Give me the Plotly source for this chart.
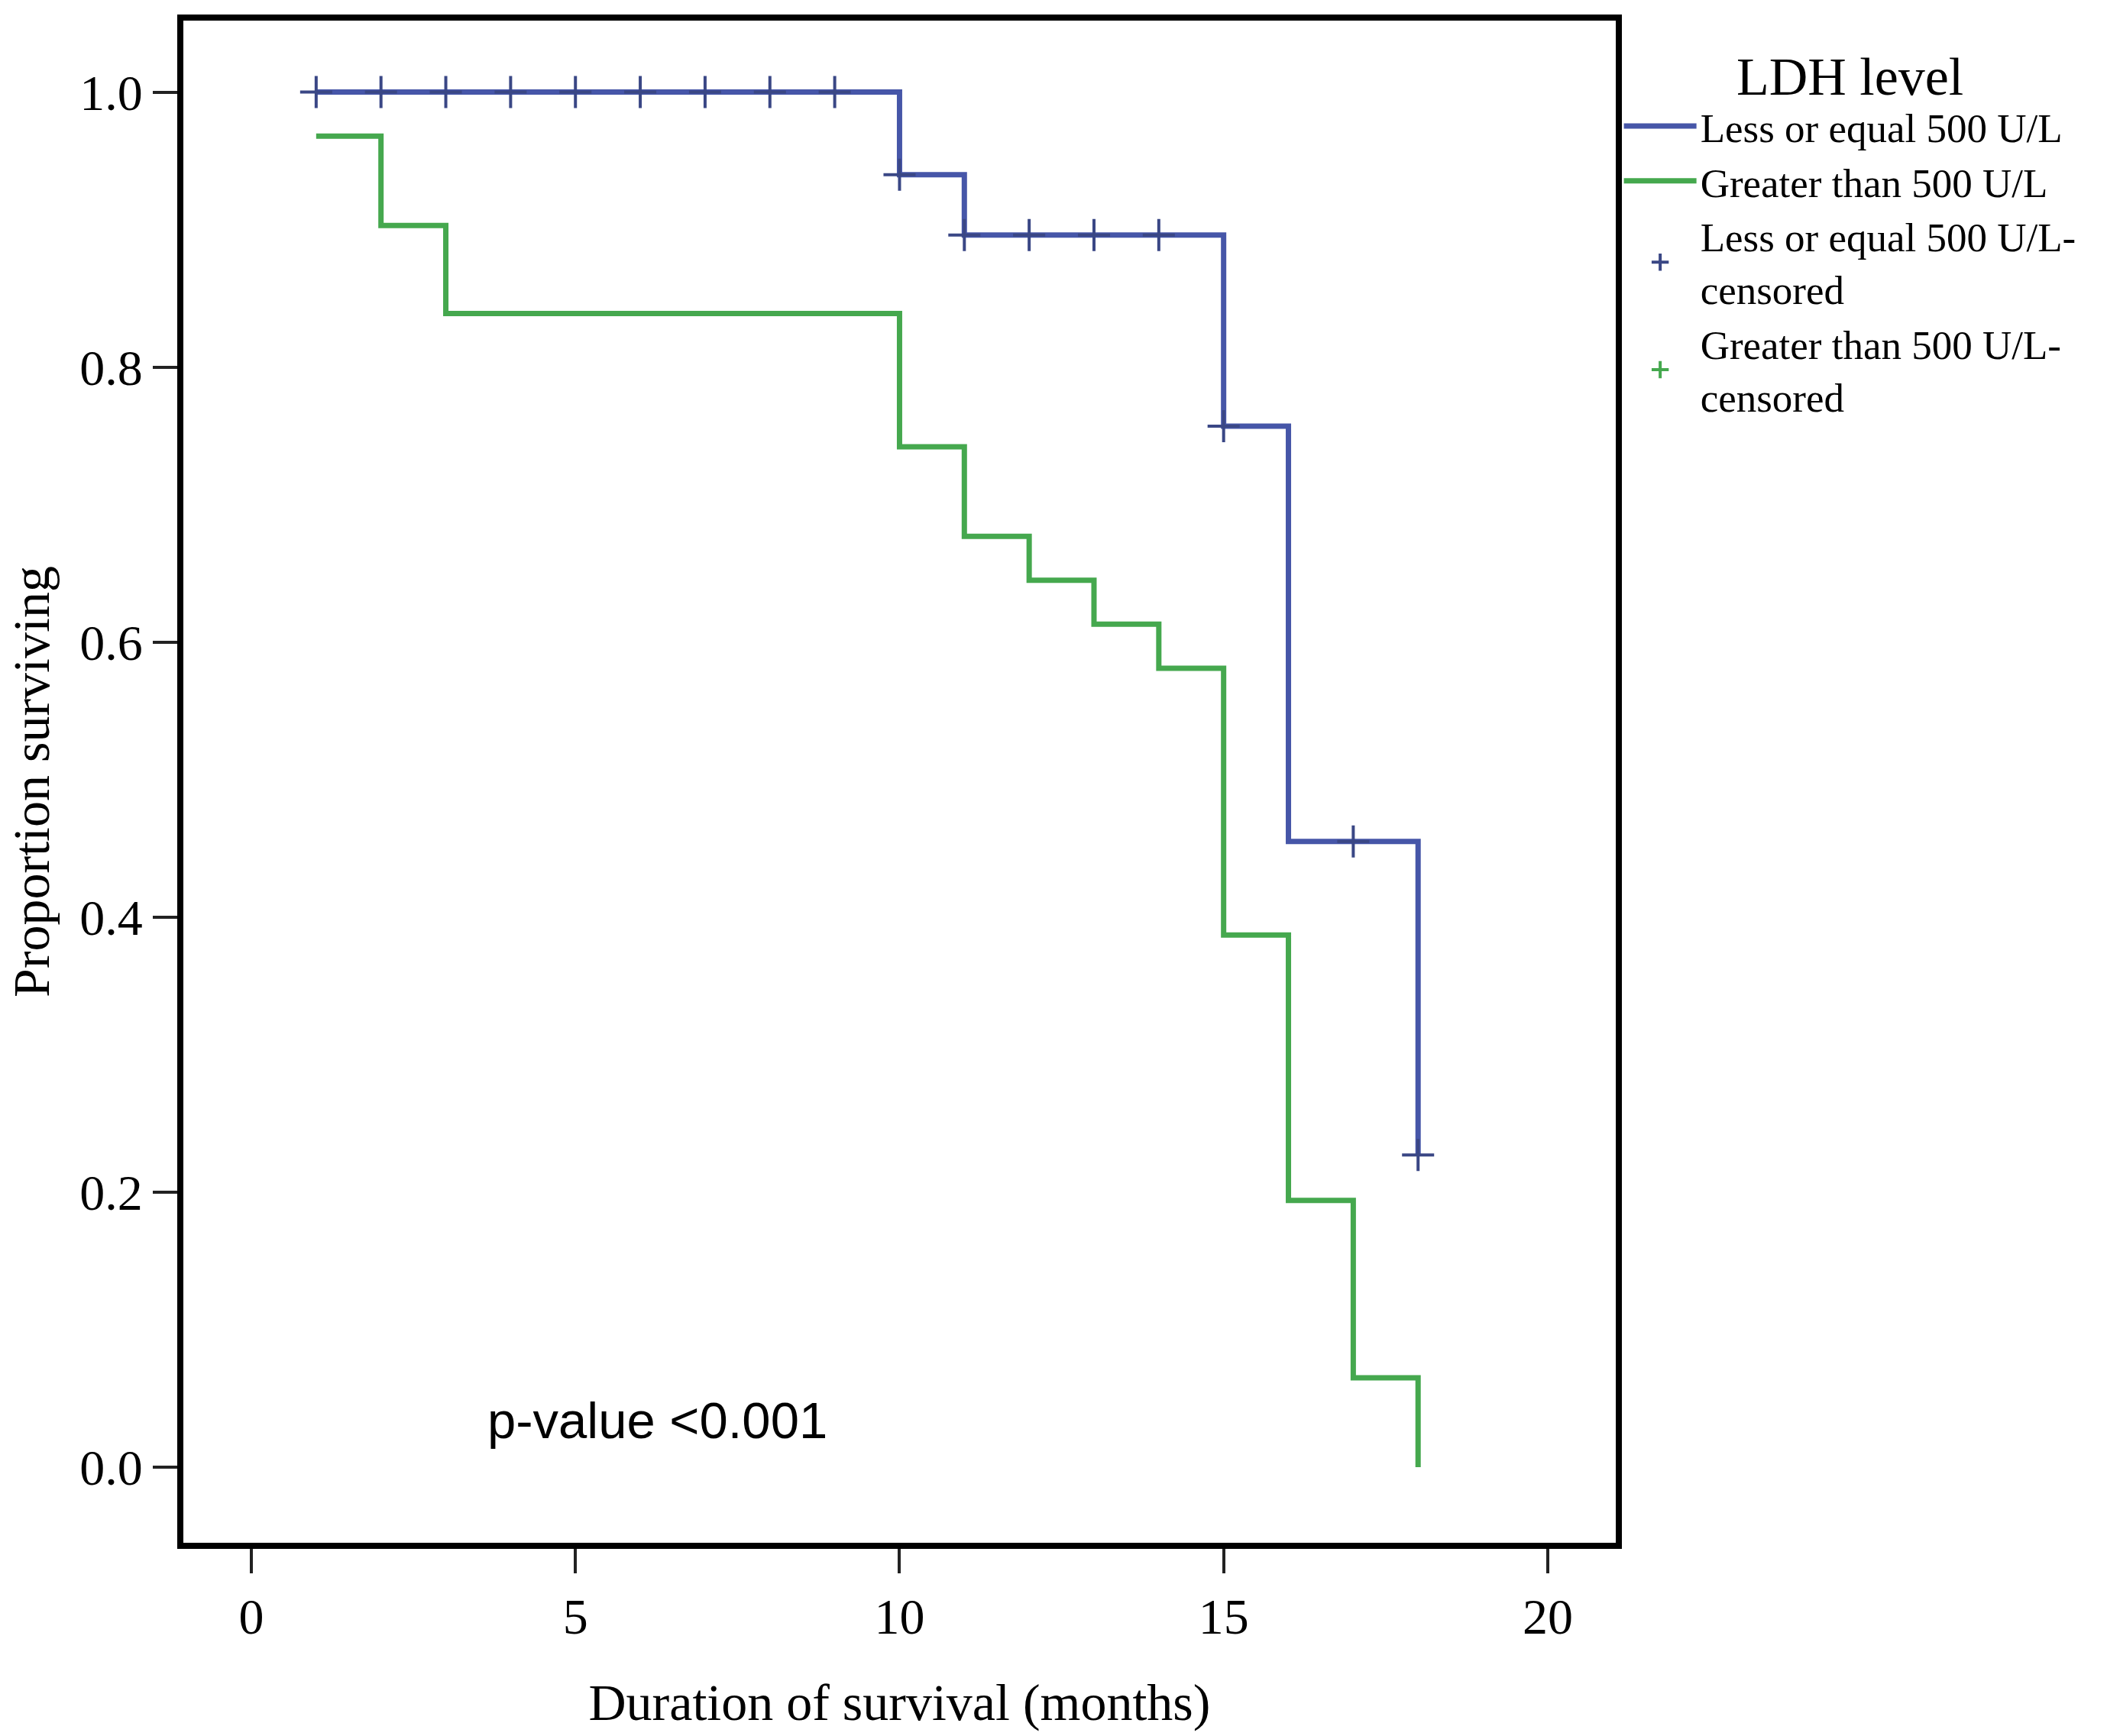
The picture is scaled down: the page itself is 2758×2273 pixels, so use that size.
import plotly.graph_objects as go

# Kaplan-Meier step data (months, proportion surviving)
low_times = [1, 10, 11, 15, 16, 18]
low_surv = [1.0, 0.94, 0.896, 0.757, 0.455, 0.227]

high_times = [1, 2, 3, 10, 11, 12, 13, 14, 15, 16, 17, 18]
high_surv = [0.968, 0.903, 0.839, 0.742, 0.677, 0.645, 0.613, 0.581, 0.387, 0.194, 0.065, 0.0]

low_cens_times = [1, 2, 3, 4, 5, 6, 7, 8, 9, 10, 11, 12, 13, 14, 15, 17, 18]
low_cens_surv = [1.0, 1.0, 1.0, 1.0, 1.0, 1.0, 1.0, 1.0, 1.0, 0.94, 0.896, 0.896, 0.896, 0.896, 0.757, 0.455, 0.227]

high_cens_times = [None]
high_cens_surv = [None]

x_ticks = [0, 5, 10, 15, 20]
y_ticks = [0.0, 0.2, 0.4, 0.6, 0.8, 1.0]

names = ["Less or equal 500 U/L", "Greater than 500 U/L",
         "Less or equal 500 U/L-<br>censored", "Greater than 500 U/L-<br>censored"]

BLUE = "#4656A8"
BLUE_DARK = "#3A4785"
GREEN = "#45A84E"
SERIF = "Liberation Serif, Times New Roman, serif"

fig = go.Figure()
fig.add_trace(go.Scatter(x=low_times, y=low_surv, mode="lines", line_shape="hv",
                         line=dict(color=BLUE, width=7), name=names[0]))
fig.add_trace(go.Scatter(x=high_times, y=high_surv, mode="lines", line_shape="hv",
                         line=dict(color=GREEN, width=7), name=names[1]))
fig.add_trace(go.Scatter(x=low_cens_times, y=low_cens_surv, mode="markers",
                         marker=dict(symbol="cross-thin", size=30, color=BLUE_DARK,
                                     line=dict(color=BLUE_DARK, width=4)),
                         name=names[2]))
fig.add_trace(go.Scatter(x=high_cens_times, y=high_cens_surv, mode="markers",
                         marker=dict(symbol="cross-thin", size=30, color=GREEN,
                                     line=dict(color=GREEN, width=4)),
                         name=names[3]))

fig.add_annotation(x=3.62, y=0.0344, xref="x", yref="y", text="p-value <0.001",
                   showarrow=False, xanchor="left", yanchor="middle",
                   font=dict(family="Liberation Sans, Arial, sans-serif", size=67, color="black"))

axis_common = dict(showgrid=False, zeroline=False, showline=True, mirror=True,
                   linewidth=8, linecolor="black", ticks="outside", ticklen=32,
                   tickwidth=4, tickcolor="#222",
                   tickfont=dict(family=SERIF, size=66, color="black"))

fig.update_xaxes(range=[-1.049, 21.05], tickvals=x_ticks,
                 title=dict(text="Duration of survival (months)",
                            font=dict(family=SERIF, size=68, color="black"), standoff=55),
                 **axis_common)
fig.update_yaxes(range=[-0.055, 1.052], tickvals=y_ticks, tickformat=".1f",
                 title=dict(text="Proportion surviving",
                            font=dict(family=SERIF, size=68, color="black"), standoff=20),
                 **axis_common)

fig.update_layout(
    width=2758, height=2273,
    margin=dict(l=240, r=643, t=27, b=253),
    plot_bgcolor="white", paper_bgcolor="white",
    legend=dict(x=1.003, xanchor="left", y=0.997, yanchor="top",
                font=dict(family=SERIF, size=53, color="black"),
                title=dict(text="LDH level", side="top center",
                           font=dict(family=SERIF, size=70, color="black")),
                bgcolor="rgba(0,0,0,0)", itemwidth=95, tracegroupgap=0),
)

fig.write_html("out.html")
